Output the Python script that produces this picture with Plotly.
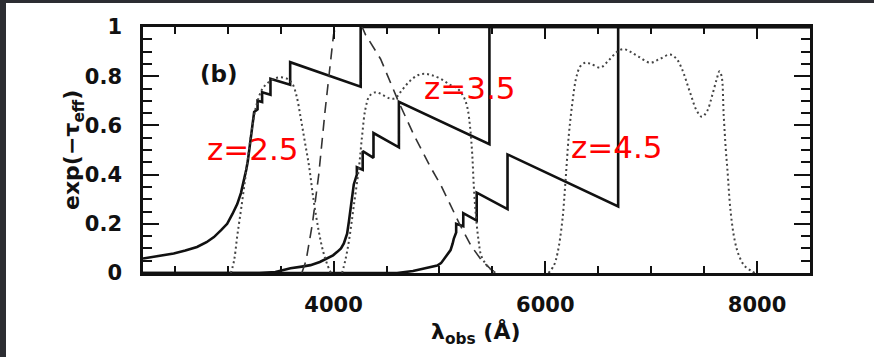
import plotly.graph_objects as go

# ---- data ----
# IGM transmission exp(-tau_eff), solid lines
z25_wl = [2200, 2350, 2490, 2600, 2710, 2800, 2870, 2940, 2995, 3045, 3090, 3125, 3150, 3175, 3190, 3205, 3222, 3240, 3250,
          3282, 3282, 3325, 3325, 3404, 3404, 3590, 3590, 4256, 4256, 8500]
z25_T  = [0.059, 0.068, 0.079, 0.091, 0.106, 0.125, 0.146, 0.175, 0.20, 0.24, 0.28, 0.325, 0.37, 0.42, 0.455, 0.505, 0.562, 0.625, 0.655,
          0.665, 0.70, 0.695, 0.735, 0.725, 0.79, 0.765, 0.857, 0.757, 1.0, 1.0]

z35_wl = [2200, 3300, 3450, 3593, 3700, 3782, 3870, 3940, 3995, 4035, 4070, 4097, 4115, 4128, 4145, 4160, 4175, 4191,
          4220, 4220, 4275, 4275, 4377, 4377, 4617, 4617, 5472, 5472, 8500]
z35_T  = [0.0, 0.0, 0.004, 0.019, 0.026, 0.032, 0.045, 0.059, 0.072, 0.086, 0.10, 0.12, 0.14, 0.16, 0.21, 0.267, 0.315, 0.36,
          0.40, 0.43, 0.42, 0.495, 0.468, 0.569, 0.511, 0.696, 0.524, 1.0, 1.0]

z45_wl = [2200, 4600, 4750, 4853, 4920, 4979, 5015, 5042, 5075, 5105, 5125, 5136,
          5158, 5158, 5225, 5225, 5352, 5352, 5643, 5643, 6688, 6688, 8500]
z45_T  = [0.0, 0.0, 0.008, 0.019, 0.024, 0.03, 0.04, 0.055, 0.072, 0.093, 0.12, 0.14,
          0.165, 0.20, 0.19, 0.243, 0.213, 0.327, 0.26, 0.482, 0.271, 1.0, 1.0]

# filter response (dashed)
dash_wl = [3700, 3740, 3800, 3860, 3920, 3960, 4000, 4040, 4150, 4230, 4270, 4300, 4444, 4610, 4760, 4916, 5010, 5100, 5200, 5300, 5400, 5500, 5560]
dash_T  = [0.0, 0.05, 0.20, 0.40, 0.66, 0.83, 0.97, 1.03, 1.06, 1.03, 1.0, 0.97, 0.87, 0.70, 0.56, 0.43, 0.36, 0.28, 0.19, 0.11, 0.05, 0.01, 0.0]

# filter responses (dotted)
f1_wl = [3030, 3060, 3090, 3130, 3180, 3230, 3270, 3330, 3400, 3480, 3560, 3610, 3650, 3690, 3730, 3770, 3810, 3860, 3900, 3940, 3975]
f1_T  = [0.0, 0.05, 0.15, 0.27, 0.43, 0.59, 0.68, 0.75, 0.78, 0.795, 0.79, 0.77, 0.72, 0.63, 0.53, 0.43, 0.30, 0.17, 0.09, 0.035, 0.0]

f2_wl = [4080, 4110, 4145, 4190, 4240, 4270, 4300, 4340, 4400, 4460, 4530, 4580, 4640, 4720, 4800, 4860, 4920, 5010, 5100, 5170, 5230, 5265, 5290, 5310, 5325, 5345, 5370, 5395, 5450, 5500, 5530]
f2_T  = [0.0, 0.05, 0.13, 0.27, 0.43, 0.56, 0.665, 0.72, 0.735, 0.725, 0.71, 0.71, 0.74, 0.78, 0.805, 0.81, 0.805, 0.79, 0.765, 0.75, 0.715, 0.67, 0.59, 0.48, 0.35, 0.23, 0.13, 0.07, 0.03, 0.01, 0.0]

f3_wl = [6030, 6080, 6115, 6160, 6190, 6222, 6255, 6290, 6330, 6380, 6430, 6520, 6600, 6680, 6740, 6800, 6880, 6990, 7080, 7180, 7240, 7290, 7370, 7430, 7480, 7530, 7575, 7620, 7645, 7665, 7685, 7705, 7720, 7750, 7790, 7830, 7880, 7940, 7980]
f3_T  = [0.0, 0.03, 0.08, 0.21, 0.37, 0.56, 0.69, 0.79, 0.84, 0.855, 0.85, 0.835, 0.865, 0.90, 0.91, 0.90, 0.88, 0.855, 0.87, 0.888, 0.87, 0.83, 0.73, 0.66, 0.635, 0.66, 0.72, 0.79, 0.82, 0.80, 0.64, 0.50, 0.42, 0.25, 0.13, 0.07, 0.03, 0.01, 0.0]

labels = ["z=2.5", "z=3.5", "z=4.5"]

x_range = [2200, 8500]
y_range = [0, 1]

# page: dark strip 6px on the left and 3px on top, figure placed after them
OFFX, OFFY = 6, 3
W, H = 874 - OFFX, 357 - OFFY
ML, MR, MT, MB = 143 - OFFX, 64, 25 - OFFY, 84
PW, PH = W - ML - MR, H - MT - MB

def px2paper(px):
    return (px - OFFX - ML) / PW

def py2paper(py):
    return (H - MB - (py - OFFY)) / PH

INK = "#111111"
fig = go.Figure()

solid = dict(color=INK, width=2.6)
for wl, T in [(z25_wl, z25_T), (z35_wl, z35_T), (z45_wl, z45_T)]:
    fig.add_trace(go.Scatter(x=wl, y=T, mode="lines", line=solid, showlegend=False, hoverinfo="skip"))

fig.add_trace(go.Scatter(x=dash_wl, y=dash_T, mode="lines", line=dict(color="#333333", width=1.6, dash="11px,7px"),
                         showlegend=False, hoverinfo="skip"))
dot = dict(color="#444444", width=2.0, dash="2px,3px")
for wl, T in [(f1_wl, f1_T), (f2_wl, f2_T), (f3_wl, f3_T)]:
    fig.add_trace(go.Scatter(x=wl, y=T, mode="lines", line=dot, line_shape="spline", showlegend=False, hoverinfo="skip"))

tickfont = dict(family="DejaVu Sans", size=21, color=INK, weight="bold")

fig.update_xaxes(range=x_range, showgrid=False, zeroline=False, showline=True, linecolor=INK, linewidth=2.5,
                 mirror="allticks", ticks="inside", tickcolor=INK, tickwidth=2, ticklen=12,
                 tick0=0, dtick=2000, tickfont=tickfont, ticklabelstandoff=11,
                 minor=dict(ticks="inside", dtick=500, ticklen=7, tickwidth=2, tickcolor=INK, showgrid=False))
fig.update_yaxes(range=y_range, showgrid=False, zeroline=False, showline=True, linecolor=INK, linewidth=2.5,
                 mirror="allticks", ticks="inside", tickcolor=INK, tickwidth=2, ticklen=16,
                 tick0=0, dtick=0.2, tickfont=tickfont, ticklabelstandoff=14,
                 minor=dict(ticks="inside", dtick=0.05, ticklen=9, tickwidth=2, tickcolor=INK, showgrid=False))

annots = []
# axis titles
annots.append(dict(text="λ<sub>obs</sub> (Å)", x=px2paper(475), y=py2paper(334), xref="paper", yref="paper",
                   showarrow=False, xanchor="center", yanchor="middle",
                   font=dict(family="DejaVu Sans", size=22, color=INK, weight="bold")))
annots.append(dict(text="exp(−τ<sub>eff</sub>)", x=px2paper(73), y=py2paper(149), xref="paper", yref="paper",
                   showarrow=False, xanchor="center", yanchor="middle", textangle=-90,
                   font=dict(family="DejaVu Sans", size=22, color=INK, weight="bold")))
annots.append(dict(text="(b)", x=px2paper(219), y=py2paper(72), xref="paper", yref="paper",
                   showarrow=False, xanchor="center", yanchor="middle",
                   font=dict(family="DejaVu Sans", size=23, color=INK, weight="bold")))
# red labels
for txt, cx, cy in zip(labels, [253, 470, 617], [148, 86, 146]):
    annots.append(dict(text=txt, x=px2paper(cx), y=py2paper(cy), xref="paper", yref="paper",
                       showarrow=False, xanchor="center", yanchor="middle",
                       font=dict(family="DejaVu Sans", size=31, color="#ff0000")))

fig.update_layout(width=W, height=H, margin=dict(l=ML, r=MR, t=MT, b=MB, pad=0),
                  paper_bgcolor="white", plot_bgcolor="white",
                  annotations=annots, showlegend=False)

post = (
    "document.body.style.margin='0px';"
    "document.body.style.overflow='hidden';"
    "document.body.style.background='#2c2d32';"
    "var gd=document.getElementById('{plot_id}');"
    "gd.style.marginLeft='" + str(OFFX) + "px';"
    "gd.style.marginTop='" + str(OFFY) + "px';"
)
fig.write_html("out.html", config={"displayModeBar": False}, post_script=post)
